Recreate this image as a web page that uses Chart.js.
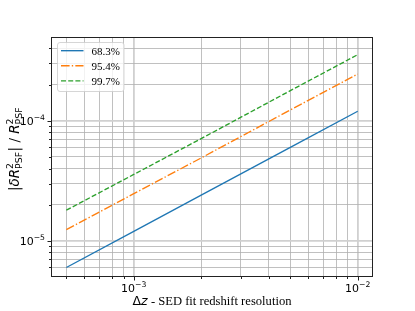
<!DOCTYPE html>
<html>
<head>
<meta charset="utf-8">
<script src="https://cdn.jsdelivr.net/npm/chart.js@4"></script>
<style>
  body { margin: 0; background: #fff; }
  #wrap { width: 415px; height: 311px; }
</style>
</head>
<body>
<div id="wrap"><canvas id="c" width="415" height="311"></canvas></div>
<script>
// values
const dz     = [5e-4, 1e-3, 2e-3, 5e-3, 1e-2];
const sig68  = [6.0e-6, 1.2e-5, 2.4e-5, 6.0e-5, 1.2e-4];
const sig95  = [1.24e-5, 2.47e-5, 4.9e-5, 1.23e-4, 2.45e-4];
const sig997 = [1.8e-5, 3.57e-5, 7.1e-5, 1.78e-4, 3.55e-4];
const seriesLabels = ['68.3%', '95.4%', '99.7%'];

const xMajor = [1e-3, 1e-2];
const xMajorExp = ['\u22123', '\u22122'];
const yMajor = [1e-5, 1e-4];
const yMajorExp = ['\u22125', '\u22124'];
const xMinor = [5e-4, 6e-4, 7e-4, 8e-4, 9e-4, 2e-3, 3e-3, 4e-3, 5e-3, 6e-3, 7e-3, 8e-3, 9e-3];
const yMinor = [6e-6, 7e-6, 8e-6, 9e-6, 2e-5, 3e-5, 4e-5, 5e-5, 6e-5, 7e-5, 8e-5, 9e-5, 2e-4, 3e-4, 4e-4];

const colors = ['#1f77b4', '#ff7f0e', '#2ca02c'];
const lw = 1.35;
const dashes = [[], [8.6, 2.2, 1.35, 2.2], [5, 2.2]];

function mkTicks(major, minor) {
  return major.map(v => ({ value: v, major: true }))
    .concat(minor.map(v => ({ value: v, major: false })))
    .sort((a, b) => a.value - b.value);
}

function gridStyle(major) {
  return {
    color: ctx => (ctx.tick && major.includes(ctx.tick.value)) ? '#d0d0d0' : '#b0b0b0',
    lineWidth: ctx => (ctx.tick && major.includes(ctx.tick.value)) ? 1.8 : 0.8,
    drawTicks: false
  };
}

const sans = '"DejaVu Sans"';
const serif = '"Liberation Serif"';

const decor = {
  id: 'decor',
  afterDraw(chart) {
    const c = chart.ctx, a = chart.chartArea;
    const xs = chart.scales.x, ys = chart.scales.y;
    c.save();
    // frame
    c.strokeStyle = '#222';
    c.lineWidth = 1;
    c.strokeRect(Math.round(a.left) + 0.5, Math.round(a.top) + 0.5,
      Math.round(a.right - a.left) - 1, Math.round(a.bottom - a.top) - 1);

    // tick marks
    c.beginPath();
    xMajor.concat(xMinor).forEach(v => {
      const px = Math.round(xs.getPixelForValue(v)) + 0.5;
      const len = xMajor.includes(v) ? 3.5 : 2;
      c.moveTo(px, a.bottom); c.lineTo(px, a.bottom + len);
    });
    yMajor.concat(yMinor).forEach(v => {
      const py = Math.round(ys.getPixelForValue(v)) + 0.5;
      const len = yMajor.includes(v) ? 3.5 : 2;
      c.moveTo(a.left, py); c.lineTo(a.left - len, py);
    });
    c.stroke();

    // tick labels 10^n
    c.fillStyle = '#000';
    c.textBaseline = 'alphabetic';
    const base = '11px ' + sans, sup = '7.7px ' + sans;
    function power(exp, x, y, align) {
      c.font = base;
      const wb = c.measureText('10').width;
      c.font = sup;
      const we = c.measureText(exp).width;
      const w = wb + we;
      let x0 = align === 'center' ? x - w / 2 : x - w;
      c.font = base;
      c.textAlign = 'left';
      c.fillText('10', x0, y);
      c.font = sup;
      c.fillText(exp, x0 + wb, y - 4.8);
    }
    xMajor.forEach((v, i) => power(xMajorExp[i], xs.getPixelForValue(v), a.bottom + 15, 'center'));
    yMajor.forEach((v, i) => power(yMajorExp[i], a.left - 6, ys.getPixelForValue(v) + 4, 'right'));

    // x title
    const tx = (a.left + a.right) / 2, ty = 305;
    const parts = [['\u0394', '12.6px ' + sans], ['z', 'italic 12.6px ' + sans], [' - SED fit redshift resolution', '12.6px ' + serif]];
    let tw = 0;
    parts.forEach(p => { c.font = p[1]; tw += c.measureText(p[0]).width; });
    let cx = tx - tw / 2;
    c.textAlign = 'left';
    parts.forEach(p => { c.font = p[1]; c.fillText(p[0], cx, ty); cx += c.measureText(p[0]).width; });

    // y title: |dR^2_PSF| / R^2_PSF
    const big = '13.5px ' + sans, bigI = 'italic 13.5px ' + sans, small = '9.4px ' + sans;
    const seq = [
      { t: '|', f: big }, { t: '\u03b4', f: bigI }, { t: 'R', f: bigI },
      { sup: '2', sub: 'PSF' }, { t: '|', f: big }, { t: ' / ', f: big },
      { t: 'R', f: bigI }, { sup: '2', sub: 'PSF' }
    ];
    function wOf(s) {
      if (s.t) { c.font = s.f; return c.measureText(s.t).width; }
      c.font = small;
      return Math.max(c.measureText(s.sup).width, c.measureText(s.sub).width) + 0.5;
    }
    let total = 0;
    seq.forEach(s => total += wOf(s));
    c.translate(18.5, 149);
    c.rotate(-Math.PI / 2);
    let px = -total / 2;
    seq.forEach(s => {
      const w = wOf(s);
      if (s.t) { c.font = s.f; c.fillText(s.t, px, 0); }
      else {
        c.font = small;
        c.fillText(s.sup, px, -6);
        c.fillText(s.sub, px, 3.3);
      }
      px += w;
    });
    c.restore();

    // legend
    c.save();
    const lx = 57.5, ly = 42.5, lwid = 66.5, lht = 49;
    c.beginPath();
    c.roundRect(lx, ly, lwid, lht, 2.5);
    c.fillStyle = 'rgba(255,255,255,0.8)';
    c.fill();
    c.strokeStyle = 'rgba(204,204,204,0.8)';
    c.lineWidth = 1;
    c.stroke();
    const rows = [50.7, 65.7, 80.8];
    seriesLabels.forEach((lab, i) => {
      c.beginPath();
      c.setLineDash(dashes[i]);
      c.strokeStyle = colors[i];
      c.lineWidth = lw;
      c.moveTo(61, rows[i]); c.lineTo(83.5, rows[i]);
      c.stroke();
      c.setLineDash([]);
      c.fillStyle = '#000';
      c.font = '11px ' + serif;
      c.textAlign = 'left';
      c.fillText(lab, 91.5, rows[i] + 3.8);
    });
    c.restore();
  }
};

const sets = [sig68, sig95, sig997];
new Chart(document.getElementById('c'), {
  type: 'line',
  data: {
    datasets: sets.map((s, i) => ({
      label: seriesLabels[i],
      data: dz.map((x, j) => ({ x: x, y: s[j] })),
      borderColor: colors[i],
      borderWidth: lw,
      borderDash: dashes[i],
      pointRadius: 0,
      fill: false,
      tension: 0
    }))
  },
  options: {
    responsive: false,
    animation: false,
    layout: { padding: { left: 51, right: 42, top: 37, bottom: 34 } },
    plugins: { legend: { display: false }, tooltip: { enabled: false } },
    scales: {
      x: {
        type: 'logarithmic', min: 4.27e-4, max: 1.17e-2,
        afterBuildTicks: s => { s.ticks = mkTicks(xMajor, xMinor); },
        ticks: { display: false },
        grid: gridStyle(xMajor),
        border: { display: false }
      },
      y: {
        type: 'logarithmic', min: 5.0e-6, max: 4.98e-4,
        afterBuildTicks: s => { s.ticks = mkTicks(yMajor, yMinor); },
        ticks: { display: false },
        grid: gridStyle(yMajor),
        border: { display: false }
      }
    }
  },
  plugins: [decor]
});
</script>
</body>
</html>
